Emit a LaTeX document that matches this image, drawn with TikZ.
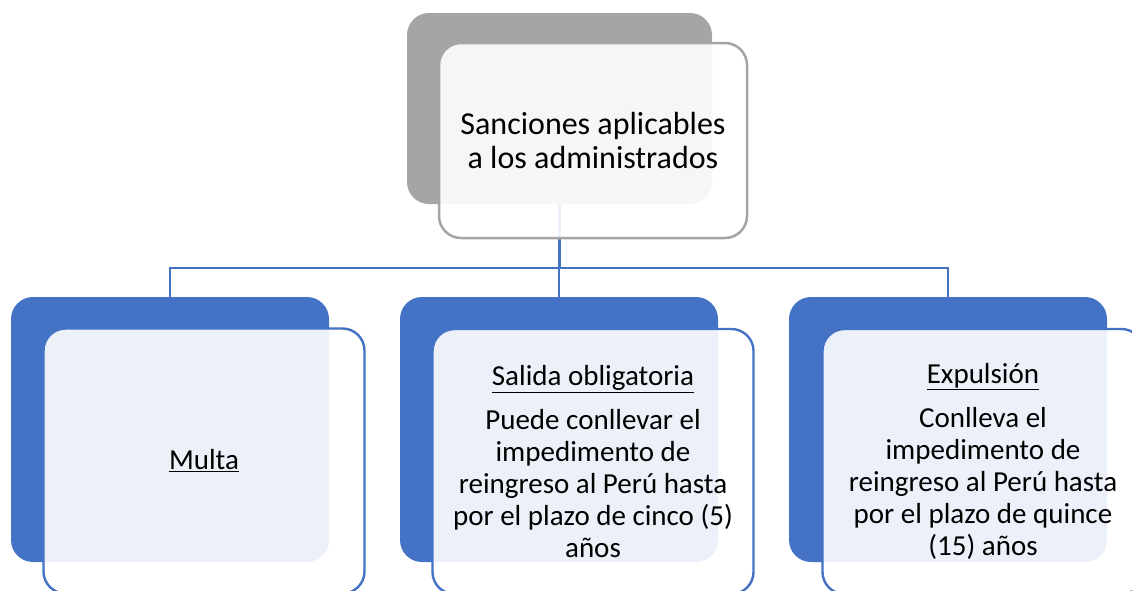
\documentclass[tikz,border=0pt]{standalone}
\usepackage{fontspec}
\setmainfont{Carlito}
\definecolor{accblue}{HTML}{4472C4}
\definecolor{accgray}{HTML}{A5A5A5}
\tikzset{
  backbox/.style={rectangle, rounded corners=22pt, inner sep=0pt},
  grayback/.style={backbox, fill=accgray, minimum width=305pt, minimum height=191pt},
  blueback/.style={backbox, fill=accblue, minimum width=318pt, minimum height=265pt},
  frontbox/.style={rectangle, rounded corners=22pt, inner sep=0pt, fill=white, fill opacity=0.9, text opacity=1, align=center, text=black},
  grayfront/.style={frontbox, draw=accgray, line width=2.5pt, minimum width=308pt, minimum height=195pt, font=\fontsize{32}{34}\selectfont},
  bluefront/.style={frontbox, draw=accblue, line width=2.4pt, minimum width=321pt, minimum height=265pt, font=\fontsize{29}{32}\selectfont},
  conn/.style={draw=accblue, line width=2.6pt}
}
\begin{document}
\begin{tikzpicture}[x=1pt,y=-1pt]
\useasboundingbox (0,0) rectangle (1132,590);
% back boxes
\node[grayback] (tb) at (559.5,108.5) {};
\node[blueback] (b1) at (170,429.5) {};
\node[blueback] (b2) at (559,429.5) {};
\node[blueback] (b3) at (948,429.5) {};
% connectors
\coordinate (hub) at (559.5,268);
\draw[conn] (tb.south) -- (hub);
\draw[conn] (hub) -| (b1.north);
\draw[conn] (hub) -| (b2.north);
\draw[conn] (hub) -| (b3.north);
% front boxes
\node[grayfront] (tf) at (593,140.5) {Sanciones aplicables\\a los administrados};
\node[bluefront] (f1) at (204,461) {\underline{Multa}};
\node[bluefront] (f2) at (593,461.5) {\underline{Salida obligatoria}\\[12pt]Puede conllevar el\\impedimento de\\reingreso al Perú hasta\\por el plazo de cinco (5)\\años};
\node[bluefront] (f3) at (983,461.5) {\underline{Expulsión}\\[12pt]Conlleva el\\impedimento de\\reingreso al Perú hasta\\por el plazo de quince\\(15) años};
\end{tikzpicture}
\end{document}
